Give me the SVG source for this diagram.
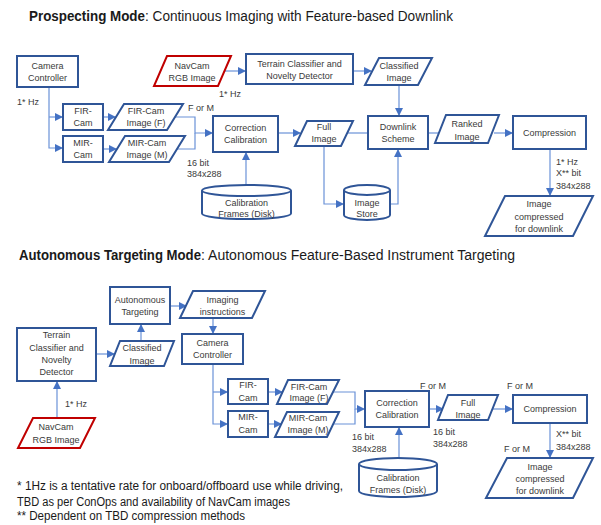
<svg xmlns="http://www.w3.org/2000/svg" width="601" height="525" viewBox="0 0 601 525">
<defs>
<style>
.box{fill:#fff;stroke:#2F5597;stroke-width:2}
.red{fill:#fff;stroke:#C00000;stroke-width:2}
.c{fill:none;stroke:#6A92D8;stroke-width:1.2}
.t{font-family:"Liberation Sans",Arial,sans-serif;font-size:9px;fill:#3a3a3a;text-anchor:middle}
.l{font-family:"Liberation Sans",Arial,sans-serif;font-size:9px;fill:#3a3a3a}
.h{font-family:"Liberation Sans",Arial,sans-serif;font-size:14px;fill:#1a1a1a}
.hb{font-weight:bold}
.f{font-family:"Liberation Sans",Arial,sans-serif;font-size:12px;fill:#1a1a1a}
</style>
<marker id="a" markerWidth="8" markerHeight="8" refX="7" refY="4" orient="auto" markerUnits="userSpaceOnUse">
<path d="M0,0 L8,4 L0,8 z" fill="#4472C4"/>
</marker>
</defs>
<rect width="601" height="525" fill="#fff"/>

<!-- Titles -->
<text class="h hb" x="29" y="21" textLength="116" lengthAdjust="spacingAndGlyphs">Prospecting Mode</text>
<text class="h" x="145" y="21" textLength="308" lengthAdjust="spacingAndGlyphs">: Continuous Imaging with Feature-based Downlink</text>
<text class="h hb" x="19" y="260" textLength="182" lengthAdjust="spacingAndGlyphs">Autonomous  Targeting Mode</text>
<text class="h" x="201" y="260" textLength="314" lengthAdjust="spacingAndGlyphs">: Autonomous Feature-Based Instrument Targeting</text>

<!-- Connectors -->
<g id="connectors">
<path class="c" d="M49,87 V148 H62" marker-end="url(#a)"/>
<path class="c" d="M49,117 H62" marker-end="url(#a)"/>
<path class="c" d="M103,117 H115" marker-end="url(#a)"/>
<path class="c" d="M103,149 H116" marker-end="url(#a)"/>
<path class="c" d="M175,117 H195 V133 H212" marker-end="url(#a)"/>
<path class="c" d="M177,149 H195 V133"/>
<path class="c" d="M246,185 V153" marker-end="url(#a)"/>
<path class="c" d="M278,133 H300" marker-end="url(#a)"/>
<path class="c" d="M347,133 H368"/>
<path class="c" d="M324,146 V204 H343" marker-end="url(#a)"/>
<path class="c" d="M390,204 H398 V150" marker-end="url(#a)"/>
<path class="c" d="M399,85 V115" marker-end="url(#a)"/>
<path class="c" d="M225,71 H245" marker-end="url(#a)"/>
<path class="c" d="M353,71 H371" marker-end="url(#a)"/>
<path class="c" d="M428,133 H441"/>
<path class="c" d="M494,133 H512" marker-end="url(#a)"/>
<path class="c" d="M550,149 V195" marker-end="url(#a)"/>

<path class="c" d="M57,418 V382" marker-end="url(#a)"/>
<path class="c" d="M96,354 H114" marker-end="url(#a)"/>
<path class="c" d="M141,341 V325" marker-end="url(#a)"/>
<path class="c" d="M170,306 H186" marker-end="url(#a)"/>
<path class="c" d="M213,318 V333" marker-end="url(#a)"/>
<path class="c" d="M213,364 V424 H227" marker-end="url(#a)"/>
<path class="c" d="M213,392 H227" marker-end="url(#a)"/>
<path class="c" d="M268,392 H282" marker-end="url(#a)"/>
<path class="c" d="M268,424 H281" marker-end="url(#a)"/>
<path class="c" d="M333,392 H355 V409 H364" marker-end="url(#a)"/>
<path class="c" d="M333,424 H355 V409"/>
<path class="c" d="M399,458 V428" marker-end="url(#a)"/>
<path class="c" d="M429,409 H443" marker-end="url(#a)"/>
<path class="c" d="M493,409 H512" marker-end="url(#a)"/>
<path class="c" d="M550,423 V457" marker-end="url(#a)"/>
</g>

<!-- Top section nodes -->
<g id="camera-controller-1">
<rect class="box" x="17" y="56" width="61" height="31"/>
<text class="t" x="47.5" y="69">Camera</text>
<text class="t" x="47.5" y="81">Controller</text>
</g>
<g id="fir-cam-1">
<rect class="box" x="63" y="104" width="40" height="26"/>
<text class="t" x="83" y="114">FIR-</text>
<text class="t" x="83" y="126">Cam</text>
</g>
<g id="mir-cam-1">
<rect class="box" x="63" y="136" width="40" height="26"/>
<text class="t" x="83" y="146">MIR-</text>
<text class="t" x="83" y="158">Cam</text>
</g>
<g id="fir-image-1">
<polygon class="box" points="124,104 183,104 167,130 108,130"/>
<text class="t" x="146" y="114">FIR-Cam</text>
<text class="t" x="146" y="126">Image (F)</text>
</g>
<g id="mir-image-1">
<polygon class="box" points="125,136 185,136 169,162 109,162"/>
<text class="t" x="147" y="146">MIR-Cam</text>
<text class="t" x="147" y="158">Image (M)</text>
</g>
<g id="correction-1">
<rect class="box" x="213" y="116" width="65" height="36"/>
<text class="t" x="245.5" y="131">Correction</text>
<text class="t" x="245.5" y="143">Calibration</text>
</g>
<g id="calib-frames-1">
<path class="box" d="M202,190.5 V213.5 A44.5,5.5 0 0 0 291,213.5 V190.5"/>
<ellipse class="box" cx="246.5" cy="190.5" rx="44.5" ry="5.5"/>
<text class="t" x="246.5" y="206">Calibration</text>
<text class="t" x="246.5" y="217">Frames (Disk)</text>
</g>
<g id="full-image-1">
<polygon class="box" points="307,121 353,121 341,146 295,146"/>
<text class="t" x="324" y="130">Full</text>
<text class="t" x="324" y="142">Image</text>
</g>
<g id="image-store">
<path class="box" d="M344,190 V215 A23,5 0 0 0 390,215 V190"/>
<ellipse class="box" cx="367" cy="190" rx="23" ry="5"/>
<text class="t" x="367" y="206">Image</text>
<text class="t" x="367" y="217">Store</text>
</g>
<g id="downlink-scheme">
<rect class="box" x="368" y="116" width="60" height="33"/>
<text class="t" x="398" y="130">Downlink</text>
<text class="t" x="398" y="142">Scheme</text>
</g>
<g id="classified-image-1">
<polygon class="box" points="379,58 432,58 418,85 365,85"/>
<text class="t" x="399" y="69">Classified</text>
<text class="t" x="399" y="81">Image</text>
</g>
<g id="terrain-classifier-1">
<rect class="box" x="246" y="54" width="107" height="30"/>
<text class="t" x="299.5" y="67">Terrain Classifier and</text>
<text class="t" x="299.5" y="79">Novelty Detector</text>
</g>
<g id="navcam-1">
<polygon class="red" points="167,56 231,56 218,86 154,86"/>
<text class="t" x="192" y="69">NavCam</text>
<text class="t" x="192" y="81">RGB Image</text>
</g>
<g id="ranked-image">
<polygon class="box" points="446,115 499,115 488,143 435,143"/>
<text class="t" x="467" y="127">Ranked</text>
<text class="t" x="467" y="140">Image</text>
</g>
<g id="compression-1">
<rect class="box" x="513" y="116" width="73" height="33"/>
<text class="t" x="549.5" y="136">Compression</text>
</g>
<g id="image-compressed-1">
<polygon class="box" points="505,196 593,196 573,236 485,236"/>
<text class="t" x="539" y="207">Image</text>
<text class="t" x="539" y="220">compressed</text>
<text class="t" x="539" y="232">for downlink</text>
</g>

<!-- Top labels -->
<g id="labels-top">
<text class="l" x="17" y="105">1* Hz</text>
<text class="l" x="219" y="97">1* Hz</text>
<text class="l" x="188" y="111">F or M</text>
<text class="l" x="187" y="166">16 bit</text>
<text class="l" x="187" y="177">384x288</text>
<text class="l" x="556" y="165">1* Hz</text>
<text class="l" x="556" y="176">X** bit</text>
<text class="l" x="556" y="189">384x288</text>
</g>

<!-- Bottom section nodes -->
<g id="terrain-classifier-2">
<rect class="box" x="17" y="328" width="79" height="53"/>
<text class="t" x="56.5" y="338">Terrain</text>
<text class="t" x="56.5" y="351">Classifier and</text>
<text class="t" x="56.5" y="363">Novelty</text>
<text class="t" x="56.5" y="375">Detector</text>
</g>
<g id="navcam-2">
<polygon class="red" points="33,418 95,418 80,448 18,448"/>
<text class="t" x="56" y="430">NavCam</text>
<text class="t" x="56" y="443">RGB Image</text>
</g>
<g id="classified-image-2">
<polygon class="box" points="120,341 174,341 164,366 110,366"/>
<text class="t" x="142" y="351">Classified</text>
<text class="t" x="142" y="364">Image</text>
</g>
<g id="autonomous-targeting">
<rect class="box" x="110" y="287" width="60" height="37"/>
<text class="t" x="140" y="303">Autonomous</text>
<text class="t" x="140" y="315">Targeting</text>
</g>
<g id="imaging-instructions">
<polygon class="box" points="193,291 265,291 252,318 180,318"/>
<text class="t" x="222.5" y="303">Imaging</text>
<text class="t" x="222.5" y="315">instructions</text>
</g>
<g id="camera-controller-2">
<rect class="box" x="182" y="334" width="61" height="30"/>
<text class="t" x="212.5" y="346">Camera</text>
<text class="t" x="212.5" y="358">Controller</text>
</g>
<g id="fir-cam-2">
<rect class="box" x="228" y="379" width="40" height="25"/>
<text class="t" x="248" y="388">FIR-</text>
<text class="t" x="248" y="401">Cam</text>
</g>
<g id="mir-cam-2">
<rect class="box" x="228" y="411" width="40" height="26"/>
<text class="t" x="248" y="420">MIR-</text>
<text class="t" x="248" y="433">Cam</text>
</g>
<g id="fir-image-2">
<polygon class="box" points="288,380 339,380 327,404 277,404"/>
<text class="t" x="309" y="390">FIR-Cam</text>
<text class="t" x="309" y="401">Image (F)</text>
</g>
<g id="mir-image-2">
<polygon class="box" points="287,412 339,412 327,437 275,437"/>
<text class="t" x="308" y="421">MIR-Cam</text>
<text class="t" x="308" y="433">Image (M)</text>
</g>
<g id="correction-2">
<rect class="box" x="365" y="391" width="64" height="36"/>
<text class="t" x="397" y="406">Correction</text>
<text class="t" x="397" y="418">Calibration</text>
</g>
<g id="calib-frames-2">
<path class="box" d="M359,464 V491 A39,6 0 0 0 437,491 V464"/>
<ellipse class="box" cx="398" cy="464" rx="39" ry="6"/>
<text class="t" x="398" y="481">Calibration</text>
<text class="t" x="398" y="493">Frames (Disk)</text>
</g>
<g id="full-image-2">
<polygon class="box" points="448,395 498,395 488,420 438,420"/>
<text class="t" x="468" y="406">Full</text>
<text class="t" x="468" y="418">Image</text>
</g>
<g id="compression-2">
<rect class="box" x="513" y="395" width="74" height="28"/>
<text class="t" x="550" y="412">Compression</text>
</g>
<g id="image-compressed-2">
<polygon class="box" points="507,458 593,458 573,498 486,498"/>
<text class="t" x="540" y="470">Image</text>
<text class="t" x="540" y="482">compressed</text>
<text class="t" x="540" y="494">for downlink</text>
</g>

<!-- Bottom labels -->
<g id="labels-bottom">
<text class="l" x="65" y="407">1* Hz</text>
<text class="l" x="420" y="389">F or M</text>
<text class="l" x="352" y="440">16 bit</text>
<text class="l" x="352" y="452">384x288</text>
<text class="l" x="433" y="435">16 bit</text>
<text class="l" x="433" y="447">384x288</text>
<text class="l" x="507" y="389">F or M</text>
<text class="l" x="556" y="437">X** bit</text>
<text class="l" x="556" y="450">384x288</text>
<text class="l" x="504" y="452">F or M</text>
</g>

<!-- Footnotes -->
<g id="footnotes">
<text class="f" x="17" y="490" textLength="326" lengthAdjust="spacingAndGlyphs">* 1Hz is a tentative rate for onboard/offboard use while driving,</text>
<text class="f" x="17" y="506" textLength="273" lengthAdjust="spacingAndGlyphs">TBD as per ConOps and availability of NavCam images</text>
<text class="f" x="17" y="520" textLength="228" lengthAdjust="spacingAndGlyphs">** Dependent on TBD compression methods</text>
</g>
</svg>
